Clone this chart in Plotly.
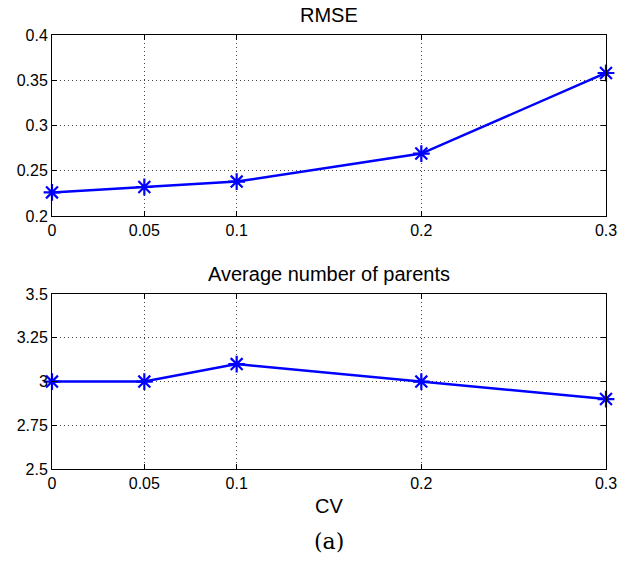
import plotly.graph_objects as go
from plotly.subplots import make_subplots

cv = [0, 0.05, 0.1, 0.2, 0.3]
rmse = [0.226, 0.232, 0.238, 0.269, 0.358]
parents = [3.0, 3.0, 3.1, 3.0, 2.9]

x_ticks = [0, 0.05, 0.1, 0.2, 0.3]
x_labels = ["0", "0.05", "0.1", "0.2", "0.3"]
y1_ticks = [0.2, 0.25, 0.3, 0.35, 0.4]
y1_labels = ["0.2", "0.25", "0.3", "0.35", "0.4"]
y2_ticks = [2.5, 2.75, 3, 3.25, 3.5]
y2_labels = ["2.5", "2.75", "3", "3.25", "3.5"]

FONT = "Liberation Sans, Arial, sans-serif"
blue = "#0000ff"

fig = make_subplots(rows=2, cols=1)

for r, y in ((1, rmse), (2, parents)):
    fig.add_trace(go.Scatter(
        x=cv, y=y, mode="lines+markers",
        line=dict(color=blue, width=2.5),
        marker=dict(symbol="asterisk-open", size=14,
                    line=dict(color=blue, width=2.2), color=blue),
        showlegend=False, cliponaxis=False, hoverinfo="skip"), row=r, col=1)

axis_common = dict(showline=True, linecolor="black", linewidth=1, mirror="ticks",
                   ticks="inside", ticklen=5, tickcolor="black",
                   showgrid=True, gridcolor="#444444", griddash="1px,3px", gridwidth=1,
                   zeroline=False,
                   tickfont=dict(family=FONT, size=16, color="black"))

fig.update_xaxes(range=[0, 0.3], tickvals=x_ticks, ticktext=x_labels, **axis_common)
fig.update_yaxes(**axis_common)
fig.update_yaxes(range=[0.2, 0.4], tickvals=y1_ticks, ticktext=y1_labels, row=1, col=1)
fig.update_yaxes(range=[2.5, 3.5], tickvals=y2_ticks, ticktext=y2_labels, row=2, col=1)

fig.update_layout(
    width=629, height=571,
    margin=dict(l=52, r=23, t=35, b=102),
    plot_bgcolor="white", paper_bgcolor="white",
    xaxis=dict(domain=[0, 1]),
    yaxis=dict(domain=[0.583, 1]),
    xaxis2=dict(domain=[0, 1]),
    yaxis2=dict(domain=[0, 0.403]),
    font=dict(family=FONT, color="black"),
    hovermode=False,
)

annotations = [
    dict(text="RMSE", x=0.5, y=1, xref="paper", yref="paper", yanchor="middle",
         yshift=20, showarrow=False, font=dict(family=FONT, size=20)),
    dict(text="Average number of parents", x=0.5, y=0.403, xref="paper", yref="paper",
         yanchor="middle", yshift=20, showarrow=False, font=dict(family=FONT, size=20)),
    dict(text="CV", x=0.5, y=0, xref="paper", yref="paper", yanchor="middle",
         yshift=-37, showarrow=False, font=dict(family=FONT, size=20)),
    dict(text="(a)", x=0.5, y=0, xref="paper", yref="paper", yanchor="middle",
         yshift=-72, showarrow=False,
         font=dict(family="DejaVu Serif, Liberation Serif, serif", size=22)),
]
fig.update_layout(annotations=annotations)

fig.write_html("out.html",
               config={"displayModeBar": False, "staticPlot": True},
               post_script="document.body.style.margin='0';document.body.style.overflow='hidden';")
